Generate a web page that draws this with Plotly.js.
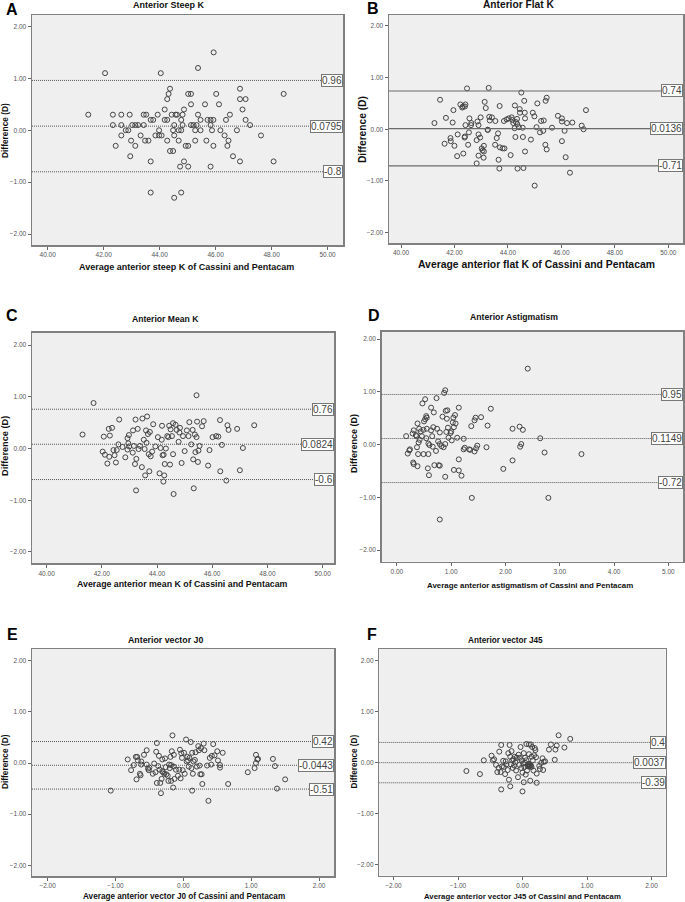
<!DOCTYPE html>
<html><head><meta charset="utf-8">
<script src="https://cdn.plot.ly/plotly-3.0.1.min.js"></script>
<style>html,body{margin:0;padding:0;background:#fff}</style>
</head><body><div id="chart" style="width:685px;height:902px"></div>
<script>
// ---------- DATA ----------
const panelLetters = ["A","B","C","D","E","F"];
const panelTitles = ["Anterior Steep K","Anterior Flat K","Anterior Mean K","Anterior Astigmatism","Anterior vector J0","Anterior vector J45"];
const xTitles = ["Average anterior steep K of Cassini and Pentacam","Average anterior flat K of Cassini and Pentacam","Average anterior mean K of Cassini and Pentacam","Average anterior astigmatism of Cassini and Pentacam","Average anterior vector J0 of Cassini and Pentacam","Average anterior vector J45 of Cassini and Pentacam"];
const yTitle = "Difference (D)";

const aX = [41.45,42.05,42.33,42.33,42.43,42.63,42.63,42.63,42.79,42.88,42.93,42.95,42.98,43.02,43.13,43.13,43.23,43.32,43.43,43.43,43.52,43.48,43.6,43.68,43.68,43.68,43.77,43.85,43.93,43.98,43.98,44.04,44.07,44.18,44.18,44.27,44.27,44.27,44.32,44.37,44.37,44.43,44.48,44.48,44.52,44.52,44.52,44.57,44.62,44.68,44.68,44.73,44.77,44.77,44.77,44.82,44.82,44.87,44.87,44.93,45.02,45.02,45.02,45.12,45.12,45.12,45.21,45.27,45.27,45.32,45.37,45.37,45.46,45.46,45.62,45.67,45.71,45.82,45.82,45.82,45.87,45.92,45.92,45.93,46.02,46.12,46.17,46.32,46.37,46.42,46.46,46.51,46.62,46.76,46.87,46.87,46.87,46.96,47.07,47.07,47.23,47.62,48.07,48.43];
const aY = [0.3,1.1,0.3,0.1,-0.3,0.3,0.1,-0.1,0,0,0.3,-0.5,-0.2,0.1,-0.3,0.1,0.1,-0.1,0.3,0.1,0.3,-0.2,-0.2,0.2,-0.6,-1.2,0.2,-0.1,0.3,0,-0.1,1.1,-0.1,0.4,0.2,0.6,0.2,-0.2,0.7,0.8,-0.4,0.3,-0.4,0,-0.1,0.1,-1.3,0.3,0.3,0,-0.2,-0.7,0.2,0,-1.2,0.3,0.1,0.4,-0.6,-0.3,0.7,-0.3,-0.7,0.7,0.5,0.1,0.1,0,-0.2,0.1,0.3,1.2,0.2,0,0.5,-0.2,0.2,0.2,0.1,-0.7,0,0.2,-0.3,1.5,0.7,0.5,0,-0.1,0.2,-0.3,-0.2,0.3,-0.5,0,0.8,0.6,-0.6,0.4,0.6,0.2,0.1,-0.1,-0.6,0.7];
const aLimits = [0.96,0.0795,-0.8];
const aLimitLabels = ["0.96","0.0795","-0.8"];

const bX = [41.25,41.46,41.68,41.85,41.93,41.96,41.63,42.0,42.12,42.1,41.86,42.22,42.29,42.31,42.41,42.39,42.41,42.39,42.38,42.33,42.47,42.51,42.56,42.54,42.63,42.62,42.83,42.83,42.86,42.9,42.9,42.9,42.96,42.98,43.02,43.05,43.1,43.1,43.13,43.17,43.09,43.24,43.28,43.3,43.32,43.4,43.53,43.52,43.58,43.63,43.65,43.68,43.69,43.7,43.8,43.87,43.85,43.95,44.03,44.1,44.14,44.16,44.2,44.26,44.25,44.28,44.3,44.34,44.35,44.36,44.41,44.44,44.45,44.5,44.55,44.56,44.58,44.61,44.63,44.64,44.64,44.86,44.93,44.99,45.0,45.07,45.1,45.2,45.24,45.32,45.34,45.4,45.41,45.45,45.45,45.65,45.87,46.02,46.02,46.02,46.12,46.16,46.21,46.32,46.41,46.76,46.83,46.92,43.25];
const bY = [0.12,0.57,0.22,-0.17,0.13,0.37,-0.28,-0.32,-0.1,-0.52,-0.23,0.48,0.42,0.44,0.48,0.44,0.08,-0.14,-0.16,-0.47,0.79,-0.3,0.21,-0.06,0.12,0.08,-0.21,-0.66,0.15,0.08,-0.1,-0.51,-0.16,0.23,-0.37,-0.41,-0.32,-0.43,0.53,0.41,-0.55,-0.01,0.8,0.24,0.17,0.23,0.16,-0.3,-0.17,-0.08,-0.59,-0.76,0.45,-0.35,-0.37,-0.37,0.16,0.19,0.21,-0.5,0.23,0.18,0.12,0.46,0.02,-0.15,0.14,0.2,0.1,-0.76,0.04,0.39,0.32,0.71,0.03,-0.15,-0.75,0.55,0.32,0.21,-0.43,-0.2,0.32,0.25,-1.09,0.04,0.5,-0.06,0.16,-0.03,0.17,-0.3,0.55,0.61,-0.39,0.03,0.26,0.21,0.15,-0.23,-0.03,-0.54,0.12,-0.84,0.13,0.07,0,0.37,-0.01];
const bLimits = [0.74,0.0136,-0.71];
const bLimitLabels = ["0.74","0.0136","-0.71"];

const cX = [41.3,41.7,42.03,42.07,42.11,42.2,42.25,42.27,42.29,42.37,42.42,42.46,42.51,42.54,42.6,42.63,42.75,42.85,42.93,42.93,42.96,42.98,42.99,43.12,43.13,43.16,43.2,43.22,43.24,43.25,43.3,43.33,43.38,43.45,43.47,43.52,43.55,43.57,43.6,43.62,43.64,43.67,43.7,43.72,43.74,43.77,43.82,43.86,43.94,44.03,44.09,44.13,44.17,44.18,44.2,44.23,44.24,44.26,44.28,44.32,44.37,44.41,44.44,44.47,44.49,44.54,44.58,44.58,44.6,44.67,44.71,44.78,44.81,44.83,44.89,44.94,45.0,45.08,45.14,45.17,45.24,45.29,45.31,45.33,45.37,45.39,45.43,45.43,45.45,45.48,45.5,45.54,45.63,45.69,45.85,45.9,46.01,46.14,46.22,46.28,46.29,46.35,46.51,46.55,46.59,46.9,47.0,47.11,47.52];
const cY = [0.27,0.88,-0.06,0.23,-0.12,-0.29,0.38,-0.16,0.25,0.4,-0.03,-0.13,-0.27,-0.03,0.08,0.56,0.03,-0.17,0.2,-0.02,0.1,0.26,0.04,-0.08,0.35,0.05,-0.3,0.56,-0.81,-0.2,0.38,-0.01,0.05,-0.36,0.58,0.17,-0.01,-0.52,0.35,0.11,0.62,0.28,-0.11,-0.44,0.32,-0.15,-0.06,0.47,0.04,0.22,-0.48,0.01,0.17,0.44,-0.13,-0.64,-0.12,-0.52,-0.3,0,0.24,0.22,0.44,-0.31,0.37,0.24,-0.11,0.49,-0.88,0.46,0.36,0.13,0.31,0.4,-0.28,0.24,-0.05,0.35,0.24,0.51,0.08,0.36,-0.21,-0.77,0.27,-0.07,0.22,1.03,0.52,-0.26,-0.04,0.05,0.43,0.53,-0.33,-0.03,0.22,0.24,0.23,0.55,-0.44,0.07,-0.62,0.45,0.36,0.38,-0.42,0.01,0.45];
const cLimits = [0.76,0.0824,-0.6];
const cLimitLabels = ["0.76","0.0824","-0.6"];

const dX = [0.17,0.2,0.23,0.24,0.29,0.3,0.31,0.31,0.35,0.36,0.37,0.38,0.38,0.39,0.4,0.41,0.42,0.44,0.46,0.47,0.49,0.49,0.5,0.52,0.52,0.54,0.54,0.55,0.55,0.57,0.58,0.58,0.59,0.6,0.63,0.63,0.65,0.66,0.67,0.68,0.69,0.72,0.73,0.74,0.76,0.77,0.79,0.79,0.79,0.79,0.82,0.84,0.86,0.87,0.89,0.89,0.89,0.9,0.91,0.92,0.93,0.94,0.95,0.99,1.0,1.01,1.03,1.04,1.05,1.05,1.07,1.08,1.11,1.14,1.14,1.14,1.19,1.23,1.23,1.25,1.33,1.35,1.37,1.38,1.43,1.43,1.45,1.46,1.48,1.55,1.65,1.67,1.73,1.96,2.13,2.13,2.26,2.27,2.29,2.32,2.41,2.64,2.72,2.79,3.4];
const dY = [0.16,-0.17,-0.11,-0.09,0.21,-0.34,0.27,-0.37,0.18,0.16,-0.05,0.4,-0.41,-0.18,0.04,0.3,0.09,0.25,0.16,0.78,0.28,-0.18,0.44,0.86,0.48,0.54,0.12,0.51,0.3,-0.45,-0.18,0.02,-0.58,-0.01,0.7,0.27,0.16,-0.04,0.33,0.61,-0.39,-0.12,0.88,0.3,0.06,-0.39,-0.4,0.01,0.23,-1.42,-0.03,0.53,-0.05,0.98,-0.61,0.01,1.03,0.64,0.24,0.49,0.65,0.32,0.13,0.22,0.25,0.08,0.42,0.51,-0.48,0.33,0.56,0.4,0.13,0.7,-0.49,-0.28,-0.59,0.11,-0.09,-0.06,-0.09,-0.1,0.35,-1.01,-0.13,0.46,0.51,-0.07,-0.02,0.52,-0.05,0.36,0.68,-0.46,0.3,-0.3,0.34,-0.04,0.01,0.28,1.44,0.12,-0.15,-1.01,-0.18];
const dLimits = [0.95,0.1149,-0.72];
const dLimitLabels = ["0.95","0.1149","-0.72"];

const eX = [-1.07,-0.82,-0.77,-0.73,-0.7,-0.69,-0.68,-0.67,-0.64,-0.63,-0.62,-0.62,-0.58,-0.54,-0.54,-0.52,-0.51,-0.5,-0.45,-0.43,-0.41,-0.4,-0.39,-0.39,-0.37,-0.36,-0.35,-0.34,-0.33,-0.32,-0.31,-0.31,-0.3,-0.28,-0.27,-0.26,-0.25,-0.23,-0.22,-0.21,-0.2,-0.19,-0.18,-0.18,-0.17,-0.16,-0.15,-0.14,-0.14,-0.13,-0.11,-0.08,-0.06,-0.05,-0.04,-0.03,-0.02,-0.01,0.01,0.02,0.04,0.05,0.06,0.07,0.08,0.09,0.11,0.12,0.13,0.13,0.14,0.15,0.17,0.18,0.2,0.22,0.23,0.24,0.25,0.26,0.27,0.28,0.3,0.31,0.35,0.37,0.39,0.41,0.42,0.44,0.46,0.5,0.51,0.54,0.54,0.58,0.66,0.95,1.05,1.07,1.07,1.09,1.1,1.32,1.35,1.38,1.5];
const eY = [-0.54,0.07,-0.14,-0.04,0.12,-0.32,0.12,0.05,-0.21,-0.24,0.03,-0.03,0.16,0.25,-0.03,-0.11,-0.14,-0.09,-0.21,-0.01,-0.18,0.22,-0.39,0.39,-0.06,0.14,-0.13,-0.39,-0.59,-0.31,0.07,-0.16,-0.18,-0.21,0.09,-0.08,-0.22,-0.25,-0.35,-0.03,-0.1,0.12,-0.04,-0.35,0.23,0.54,-0.48,0.16,-0.07,-0.31,-0.13,-0.25,-0.13,0.26,-0.3,0.19,0.1,-0.14,0.2,-0.21,0.46,0.03,0.12,0.05,-0.07,0.1,0.41,-0.1,-0.54,0.2,-0.21,0.03,0.06,0.21,-0.07,0.33,0.25,-0.05,-0.22,0.29,-0.22,-0.41,0.38,0.25,-0.05,-0.74,0.1,-0.03,0.14,0.37,0.15,0.23,0.05,-0.09,-0.04,0.2,-0.41,-0.18,-0.1,0,0.16,0.07,0.08,0.08,-0.06,-0.5,-0.32];
const eLimits = [0.42,-0.0443,-0.51];
const eLimitLabels = ["0.42","-0.0443","-0.51"];

const fX = [-0.87,-0.66,-0.6,-0.48,-0.46,-0.44,-0.41,-0.39,-0.37,-0.36,-0.34,-0.33,-0.33,-0.32,-0.3,-0.29,-0.27,-0.26,-0.25,-0.23,-0.22,-0.21,-0.2,-0.19,-0.19,-0.18,-0.17,-0.16,-0.15,-0.14,-0.13,-0.12,-0.11,-0.1,-0.09,-0.07,-0.06,-0.05,-0.04,-0.03,-0.02,-0.01,0.0,0.0,0.01,0.02,0.02,0.03,0.04,0.05,0.06,0.06,0.07,0.09,0.1,0.1,0.11,0.12,0.13,0.13,0.14,0.14,0.15,0.16,0.17,0.18,0.19,0.2,0.21,0.22,0.22,0.26,0.27,0.29,0.31,0.32,0.33,0.35,0.41,0.44,0.5,0.51,0.53,0.56,0.65,0.74,0.04,0.09,0.12,0.08,0.11,0.1];
const fY = [-0.16,-0.22,0.05,0.14,0.05,0.07,-0.04,-0.18,-0.1,0.22,-0.18,0.35,-0.52,-0.07,0.04,-0.08,-0.22,0.03,-0.03,-0.14,0.19,-0.33,0.35,-0.46,0.12,-0.03,0.23,0.05,-0.1,0.07,-0.05,0.12,0.01,-0.15,0.1,-0.28,0.16,-0.04,0.1,0.31,-0.1,0.05,-0.19,-0.56,-0.01,0.19,-0.38,-0.08,0.1,-0.23,0.05,0.37,-0.15,-0.03,0.36,0.17,-0.07,-0.35,0.36,-0.05,0.12,-0.08,0.31,0.05,-0.15,0.15,0.29,0.25,0.11,-0.21,-0.39,-0.06,-0.12,0,0.09,-0.14,0.02,0.03,0.26,0.36,0.06,0.26,0.34,0.54,0.3,0.47,0,-0.07,-0.05,-0.06,-0.04,-0.02];
const fLimits = [0.4,0.0037,-0.39];
const fLimitLabels = ["0.4","0.0037","-0.39"];

const xsAll = [aX,bX,cX,dX,eX,fX];
const ysAll = [aY,bY,cY,dY,eY,fY];
const limitsAll = [aLimits,bLimits,cLimits,dLimits,eLimits,fLimits];
const limitLabelsAll = [aLimitLabels,bLimitLabels,cLimitLabels,dLimitLabels,eLimitLabels,fLimitLabels];

// ---------- LAYOUT (pixel geometry) ----------
const W = 685, H = 902;
const FONT = "Liberation Sans, Arial, Helvetica, sans-serif";
const geo = [
  {l:32, r:343, t:15, b:245, xr:[39.44,50.55], yr:[-2.21,2.22], dt:2, tf:9, xf:9, yf:8.4, lf:10, title:[168.7,5], xt:[187,267], yt:[5,131], let:[12,9], solid:false},
  {l:389, r:683, t:15, b:243, xr:[39.55,50.55], yr:[-2.2,2.21], dt:2, tf:10.2, xf:10.4, yf:10.2, lf:10, title:[518,5], xt:[536,265], yt:[362,130], let:[373,8.5], solid:true},
  {l:32, r:334, t:332.7, b:563.3, xr:[39.47,50.41], yr:[-2.22,2.24], dt:2, tf:8.6, xf:8.8, yf:9.2, lf:10, title:[165.7,319], xt:[183,584], yt:[5,446], let:[12,315.5], solid:false},
  {l:381.7, r:683, t:331.7, b:561.7, xr:[-0.28,5.27], yr:[-2.22,2.14], dt:1, tf:8.7, xf:7.9, yf:9, lf:10, title:[514,317.3], xt:[530,585], yt:[354,444], let:[374,315.8], solid:false},
  {l:32, r:334, t:649, b:876, xr:[-2.23,2.22], yr:[-2.21,2.23], dt:1, tf:8.8, xf:8.2, yf:8.3, lf:10, title:[165.5,640], xt:[184,896.5], yt:[5,762], let:[12,634.7], solid:false},
  {l:379.3, r:665.7, t:649, b:875.7, xr:[-2.22,2.22], yr:[-2.21,2.23], dt:1, tf:8.2, xf:7.8, yf:8.2, lf:10, title:[505,640], xt:[522,896], yt:[353.5,762], let:[372,634], solid:false}
];
const px = x => x / W;
const py = y => 1 - y / H;

const data = [], shapes = [], annotations = [];
const layout = {
  width: W, height: H, margin: {l:0, r:0, t:0, b:0},
  paper_bgcolor: '#ffffff', plot_bgcolor: '#efefef',
  showlegend: false, font: {family: FONT, color: '#222'}
};

geo.forEach((g, i) => {
  const n = i === 0 ? '' : String(i + 1);
  const xa = 'x' + n, ya = 'y' + n;
  data.push({
    type: 'scatter', mode: 'markers', x: xsAll[i], y: ysAll[i],
    xaxis: xa, yaxis: ya, hoverinfo: 'skip',
    marker: {symbol: 'circle-open', size: 5, color: '#444', line: {width: 1}}
  });
  const axCommon = {
    showgrid: false, zeroline: false, showline: true, mirror: true,
    linecolor: '#808080', linewidth: 1.5, ticks: 'outside', ticklen: 3,
    tickcolor: '#666', tickwidth: 1, tickformat: '.2f',
    tickfont: {size: 6.5, color: '#555', family: FONT}, fixedrange: true
  };
  layout['xaxis' + n] = Object.assign({}, axCommon, {
    domain: [px(g.l), px(g.r)], anchor: ya, range: g.xr, dtick: g.dt, tick0: 0
  });
  layout['yaxis' + n] = Object.assign({}, axCommon, {
    domain: [py(g.b), py(g.t)], anchor: xa, range: g.yr, dtick: 1, tick0: 0
  });
  limitsAll[i].forEach((v, k) => {
    shapes.push({
      type: 'line', xref: xa + ' domain', yref: ya, x0: 0, x1: 1, y0: v, y1: v,
      line: g.solid ? {color: '#6a6a6a', width: 1.2} : {color: '#555', width: 1, dash: '1px,1px'}
    });
    annotations.push({
      xref: xa + ' domain', yref: ya, x: 1, y: v, xanchor: 'right', yanchor: 'middle',
      text: limitLabelsAll[i][k], showarrow: false,
      font: {size: g.lf, color: '#444', family: FONT},
      bgcolor: '#ffffff', bordercolor: '#777', borderwidth: 1, borderpad: 0
    });
  });
  annotations.push({xref:'paper', yref:'paper', x: px(g.title[0]), y: py(g.title[1]),
    xanchor:'center', yanchor:'middle', showarrow:false, text: '<b>' + panelTitles[i] + '</b>',
    font:{size: g.tf, color:'#111', family: FONT}});
  annotations.push({xref:'paper', yref:'paper', x: px(g.xt[0]), y: py(g.xt[1]),
    xanchor:'center', yanchor:'middle', showarrow:false, text: '<b>' + xTitles[i] + '</b>',
    font:{size: g.xf, color:'#111', family: FONT}});
  annotations.push({xref:'paper', yref:'paper', x: px(g.yt[0]), y: py(g.yt[1]),
    xanchor:'center', yanchor:'middle', showarrow:false, textangle:-90, text: '<b>' + yTitle + '</b>',
    font:{size: g.yf, color:'#111', family: FONT}});
  annotations.push({xref:'paper', yref:'paper', x: px(g.let[0]), y: py(g.let[1]),
    xanchor:'center', yanchor:'middle', showarrow:false, text: '<b>' + panelLetters[i] + '</b>',
    font:{size: 16, color:'#000', family: FONT}});
});

layout.shapes = shapes;
layout.annotations = annotations;
Plotly.newPlot('chart', data, layout, {staticPlot: true, displayModeBar: false});
</script>
</body></html>
